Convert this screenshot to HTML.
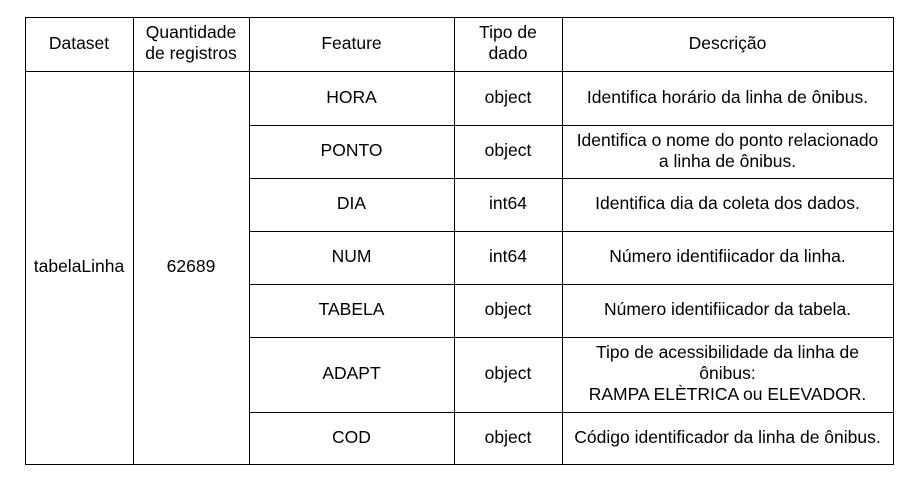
<!DOCTYPE html>
<html><head><meta charset="utf-8"><style>
body{margin:0;width:912px;height:485px;background:#fff;position:relative;font-family:"Liberation Sans",sans-serif;font-size:17.5px;color:#000;overflow:hidden}
.l{position:absolute;background:#000}
.c{position:absolute;display:flex;align-items:center;justify-content:center;text-align:center;line-height:21px;white-space:nowrap}
</style></head><body>
<div class="l" style="left:25px;top:17px;width:869px;height:1px"></div>
<div class="l" style="left:25px;top:71px;width:869px;height:1px"></div>
<div class="l" style="left:25px;top:464px;width:869px;height:1px"></div>
<div class="l" style="left:25px;top:17px;width:1px;height:448px"></div>
<div class="l" style="left:133px;top:17px;width:1px;height:448px"></div>
<div class="l" style="left:249px;top:17px;width:1px;height:448px"></div>
<div class="l" style="left:454px;top:17px;width:1px;height:448px"></div>
<div class="l" style="left:562px;top:17px;width:1px;height:448px"></div>
<div class="l" style="left:893px;top:17px;width:1px;height:448px"></div>
<div class="l" style="left:249px;top:125px;width:645px;height:1px"></div>
<div class="l" style="left:249px;top:178px;width:645px;height:1px"></div>
<div class="l" style="left:249px;top:231px;width:645px;height:1px"></div>
<div class="l" style="left:249px;top:284px;width:645px;height:1px"></div>
<div class="l" style="left:249px;top:337px;width:645px;height:1px"></div>
<div class="l" style="left:249px;top:412px;width:645px;height:1px"></div>

<div class="c" style="left:25px;top:16px;width:108px;height:54px">Dataset</div>
<div class="c" style="left:133px;top:16px;width:116px;height:54px">Quantidade<br>de registros</div>
<div class="c" style="left:249px;top:16px;width:205px;height:54px">Feature</div>
<div class="c" style="left:454px;top:16px;width:108px;height:54px">Tipo de<br>dado</div>
<div class="c" style="left:562px;top:16px;width:331px;height:54px">Descrição</div>

<div class="c" style="left:25px;top:70px;width:108px;height:393px">tabelaLinha</div>
<div class="c" style="left:133px;top:70px;width:116px;height:393px">62689</div>

<div class="c" style="left:249px;top:70px;width:205px;height:54px">HORA</div>
<div class="c" style="left:454px;top:70px;width:108px;height:54px">object</div>
<div class="c" style="left:562px;top:70px;width:331px;height:54px">Identifica horário da linha de ônibus.</div>

<div class="c" style="left:249px;top:124px;width:205px;height:53px">PONTO</div>
<div class="c" style="left:454px;top:124px;width:108px;height:53px">object</div>
<div class="c" style="left:562px;top:124px;width:331px;height:53px">Identifica o nome do ponto relacionado<br>a linha de ônibus.</div>

<div class="c" style="left:249px;top:177px;width:205px;height:53px">DIA</div>
<div class="c" style="left:454px;top:177px;width:108px;height:53px">int64</div>
<div class="c" style="left:562px;top:177px;width:331px;height:53px">Identifica dia da coleta dos dados.</div>

<div class="c" style="left:249px;top:230px;width:205px;height:53px">NUM</div>
<div class="c" style="left:454px;top:230px;width:108px;height:53px">int64</div>
<div class="c" style="left:562px;top:230px;width:331px;height:53px">Número identifiicador da linha.</div>

<div class="c" style="left:249px;top:283px;width:205px;height:53px">TABELA</div>
<div class="c" style="left:454px;top:283px;width:108px;height:53px">object</div>
<div class="c" style="left:562px;top:283px;width:331px;height:53px">Número identifiicador da tabela.</div>

<div class="c" style="left:249px;top:336px;width:205px;height:75px">ADAPT</div>
<div class="c" style="left:454px;top:336px;width:108px;height:75px">object</div>
<div class="c" style="left:562px;top:336px;width:331px;height:75px">Tipo de acessibilidade da linha de<br>ônibus:<br>RAMPA ELÈTRICA ou ELEVADOR.</div>

<div class="c" style="left:249px;top:411px;width:205px;height:52px">COD</div>
<div class="c" style="left:454px;top:411px;width:108px;height:52px">object</div>
<div class="c" style="left:562px;top:411px;width:331px;height:52px">Código identificador da linha de ônibus.</div>
</body></html>
